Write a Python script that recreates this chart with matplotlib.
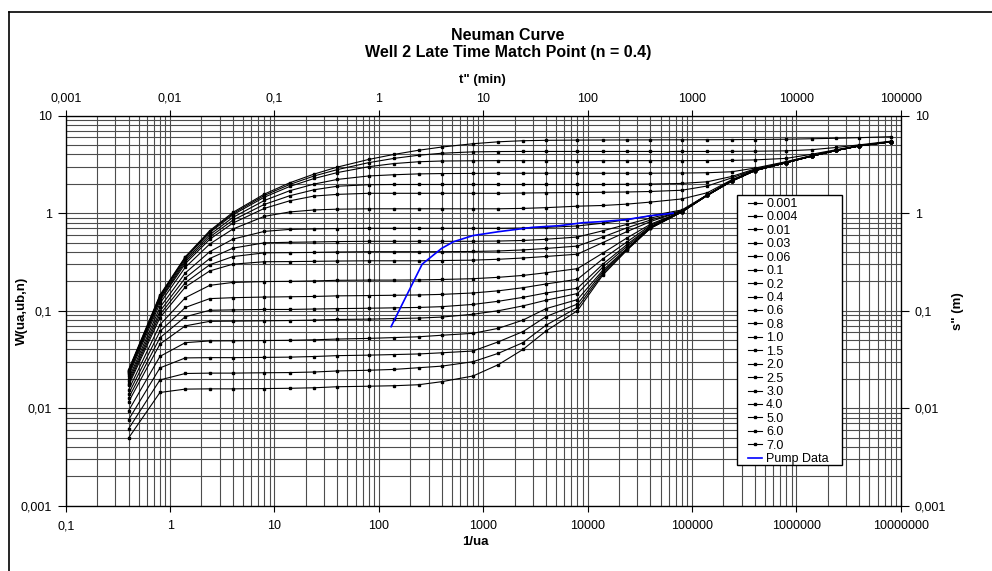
import matplotlib
matplotlib.use("Agg")
import matplotlib.pyplot as plt
from matplotlib.ticker import FixedLocator, FuncFormatter, NullFormatter
from matplotlib.lines import Line2D
from matplotlib.patches import Rectangle

plt.rcParams['font.family'] = ['Liberation Sans', 'DejaVu Sans']

# ---------------- data ----------------
inv_ua = [0.4, 0.8, 1.4, 2.4, 4, 8, 14, 24, 40, 80, 140, 240, 400, 800,
          1400, 2400, 4000, 8000, 14000, 24000, 40000, 80000,
          140000, 240000, 400000, 800000, 1400000, 2400000, 4000000, 8000000]

gamma_labels = ['0.001', '0.004', '0.01', '0.03', '0.06', '0.1', '0.2', '0.4', '0.6',
                '0.8', '1.0', '1.5', '2.0', '2.5', '3.0', '4.0', '5.0', '6.0', '7.0']

w_0001 = [0.0248, 0.145, 0.358, 0.662, 1.02, 1.57, 2.05, 2.52, 2.97, 3.56, 4.01, 4.42, 4.77, 5.16,
          5.40, 5.54, 5.59, 5.62, 5.63, 5.64, 5.65, 5.66, 5.67, 5.68, 5.70, 5.74, 5.80, 5.87, 5.95, 6.09]
w_0004 = [0.0243, 0.142, 0.352, 0.648, 0.992, 1.52, 1.97, 2.41, 2.80, 3.30, 3.65, 3.93, 4.12, 4.26,
          4.29, 4.30, 4.30, 4.30, 4.30, 4.30, 4.30, 4.30, 4.30, 4.31, 4.32, 4.36, 4.48, 4.72, 5.02, 5.48]
w_001 = [0.0241, 0.140, 0.345, 0.633, 0.963, 1.46, 1.88, 2.27, 2.61, 3.00, 3.23, 3.37, 3.43, 3.45,
         3.46, 3.46, 3.46, 3.46, 3.46, 3.46, 3.46, 3.46, 3.47, 3.48, 3.52, 3.65, 4.02, 4.48, 4.94, 5.43]
w_003 = [0.0235, 0.136, 0.331, 0.601, 0.905, 1.35, 1.70, 1.99, 2.22, 2.41, 2.48, 2.53, 2.55, 2.56,
         2.57, 2.57, 2.57, 2.57, 2.57, 2.57, 2.57, 2.58, 2.60, 2.66, 2.90, 3.38, 3.90, 4.42, 4.91, 5.41]
w_006 = [0.0230, 0.131, 0.318, 0.570, 0.849, 1.23, 1.51, 1.74, 1.89, 1.96, 1.97, 1.97, 1.97, 1.97,
         1.97, 1.97, 1.97, 1.97, 1.97, 1.98, 1.99, 2.02, 2.10, 2.38, 2.84, 3.34, 3.88, 4.41, 4.90, 5.40]
w_01 = [0.0224, 0.127, 0.304, 0.540, 0.792, 1.12, 1.34, 1.50, 1.56, 1.60, 1.60, 1.60, 1.60, 1.60,
        1.60, 1.61, 1.62, 1.63, 1.64, 1.65, 1.67, 1.72, 1.90, 2.30, 2.80, 3.32, 3.87, 4.41, 4.90, 5.40]
w_02 = [0.0214, 0.119, 0.279, 0.483, 0.688, 0.928, 1.03, 1.08, 1.10, 1.11, 1.11, 1.11, 1.11, 1.11,
        1.11, 1.12, 1.14, 1.18, 1.20, 1.24, 1.30, 1.40, 1.62, 2.20, 2.77, 3.31, 3.86, 4.40, 4.90, 5.40]
w_04 = [0.0199, 0.108, 0.244, 0.403, 0.542, 0.651, 0.682, 0.690, 0.696, 0.700, 0.700, 0.700, 0.700, 0.700,
        0.700, 0.705, 0.715, 0.740, 0.790, 0.860, 0.940, 1.08, 1.54, 2.15, 2.75, 3.30, 3.85, 4.40, 4.90, 5.40]
w_06 = [0.0188, 0.0988, 0.217, 0.343, 0.438, 0.497, 0.503, 0.507, 0.512, 0.515, 0.515, 0.515, 0.515, 0.515,
        0.518, 0.525, 0.540, 0.570, 0.660, 0.770, 0.890, 1.06, 1.54, 2.15, 2.75, 3.30, 3.85, 4.40, 4.90, 5.40]
w_08 = [0.0179, 0.0915, 0.194, 0.296, 0.359, 0.392, 0.394, 0.396, 0.400, 0.403, 0.403, 0.403, 0.403, 0.405,
        0.410, 0.420, 0.435, 0.460, 0.570, 0.710, 0.850, 1.05, 1.54, 2.15, 2.75, 3.30, 3.85, 4.40, 4.90, 5.40]
w_10 = [0.0171, 0.0849, 0.175, 0.256, 0.300, 0.318, 0.319, 0.321, 0.323, 0.325, 0.325, 0.325, 0.327, 0.330,
        0.337, 0.347, 0.360, 0.380, 0.500, 0.650, 0.820, 1.05, 1.54, 2.15, 2.75, 3.30, 3.85, 4.40, 4.90, 5.40]
w_15 = [0.0154, 0.0717, 0.136, 0.182, 0.195, 0.199, 0.200, 0.202, 0.205, 0.206, 0.206, 0.207, 0.209, 0.213,
        0.220, 0.230, 0.245, 0.270, 0.390, 0.560, 0.770, 1.04, 1.53, 2.14, 2.74, 3.30, 3.85, 4.40, 4.90, 5.40]
w_20 = [0.0140, 0.0614, 0.108, 0.133, 0.136, 0.138, 0.139, 0.140, 0.142, 0.143, 0.144, 0.145, 0.147, 0.152,
        0.160, 0.172, 0.188, 0.210, 0.340, 0.510, 0.750, 1.04, 1.53, 2.14, 2.74, 3.30, 3.85, 4.40, 4.90, 5.40]
w_25 = [0.0127, 0.0528, 0.0867, 0.101, 0.102, 0.103, 0.103, 0.104, 0.105, 0.106, 0.107, 0.108, 0.110, 0.116,
        0.125, 0.137, 0.152, 0.170, 0.300, 0.480, 0.730, 1.035, 1.53, 2.14, 2.74, 3.30, 3.85, 4.40, 4.90, 5.40]
w_30 = [0.0116, 0.0454, 0.0699, 0.0778, 0.0782, 0.0788, 0.0793, 0.0801, 0.0813, 0.082, 0.083, 0.084, 0.086, 0.092,
        0.100, 0.112, 0.128, 0.150, 0.280, 0.460, 0.720, 1.033, 1.53, 2.14, 2.74, 3.30, 3.85, 4.40, 4.90, 5.40]
w_40 = [0.0094, 0.0340, 0.0470, 0.0490, 0.0491, 0.0494, 0.0497, 0.0503, 0.0512, 0.052, 0.053, 0.054, 0.056, 0.0586,
        0.066, 0.080, 0.105, 0.130, 0.260, 0.440, 0.710, 1.03, 1.52, 2.13, 2.73, 3.30, 3.85, 4.40, 4.90, 5.40]
w_50 = [0.0076, 0.0259, 0.0328, 0.0330, 0.0330, 0.0332, 0.0334, 0.0339, 0.0346, 0.0350, 0.0355, 0.0360, 0.0370, 0.0386,
        0.048, 0.061, 0.087, 0.117, 0.250, 0.430, 0.705, 1.03, 1.52, 2.13, 2.73, 3.30, 3.85, 4.40, 4.90, 5.40]
w_60 = [0.00613, 0.0195, 0.0227, 0.0229, 0.0229, 0.0231, 0.0232, 0.0235, 0.0241, 0.0245, 0.0250, 0.0260, 0.0270, 0.0300,
        0.0366, 0.047, 0.071, 0.108, 0.240, 0.425, 0.700, 1.03, 1.52, 2.13, 2.73, 3.30, 3.85, 4.40, 4.90, 5.40]
w_70 = [0.00494, 0.0145, 0.0157, 0.0158, 0.0158, 0.0159, 0.0160, 0.0162, 0.0166, 0.0168, 0.0170, 0.0174, 0.0187, 0.0214,
        0.028, 0.040, 0.062, 0.100, 0.232, 0.420, 0.700, 1.03, 1.52, 2.13, 2.73, 3.30, 3.85, 4.40, 4.90, 5.40]

curves = [w_0001, w_0004, w_001, w_003, w_006, w_01, w_02, w_04, w_06, w_08,
          w_10, w_15, w_20, w_25, w_30, w_40, w_50, w_60, w_70]

# pump test data (top axis t'' in min, right axis s'' in m)
t_pump = [1.31, 2.6, 4.0, 5.2, 8.0, 14, 30, 54, 91, 131, 236, 395, 660]
s_pump = [0.0686, 0.30, 0.436, 0.51, 0.59, 0.646, 0.717, 0.745, 0.80, 0.818, 0.86, 0.94, 1.0]

# axis tick values
x_bottom_ticks = [0.1, 1, 10, 100, 1000, 10000, 100000, 1000000, 10000000]
x_top_ticks = [0.001, 0.01, 0.1, 1, 10, 100, 1000, 10000, 100000]
y_ticks = [0.001, 0.01, 0.1, 1, 10]

# ---------------- figure ----------------
W, H = 992, 571
fig = plt.figure(figsize=(W / 100, H / 100), dpi=100)
L, R, T, B = 65.7, 900.7, 115.7, 505.7
rect = [L / W, 1 - B / H, (R - L) / W, (B - T) / H]


def fmt(v, pos=None):
    if v >= 1:
        return str(int(round(v)))
    s = ('%.6f' % v).rstrip('0')
    return s.replace('.', ',')


def minors(ticks):
    out = []
    for t in ticks[:-1]:
        out += [t * k for k in range(2, 10)]
    return out


def setup(axis, ticks):
    axis.set_major_locator(FixedLocator(ticks))
    axis.set_minor_locator(FixedLocator(minors(ticks)))
    axis.set_major_formatter(FuncFormatter(fmt))
    axis.set_minor_formatter(NullFormatter())


ax = fig.add_axes(rect)
ax.set_xscale('log')
ax.set_yscale('log')
ax.set_xlim(0.1, 1e7)
ax.set_ylim(0.001, 10)
setup(ax.xaxis, x_bottom_ticks)
setup(ax.yaxis, y_ticks)
ax.grid(True, which='both', color='0.3', lw=0.8)
ax.set_axisbelow(True)
ax.tick_params(which='minor', length=0)
ax.tick_params(axis='x', which='major', direction='out', length=4, pad=6.5, labelsize=9)
ax.tick_params(axis='y', which='major', direction='out', length=6, pad=4, labelsize=9)
for sp in ax.spines.values():
    sp.set_color('black')
    sp.set_linewidth(0.9)

handles = []
for lab, w in zip(gamma_labels, curves):
    h, = ax.plot(inv_ua, w, color='black', lw=0.8, marker='s', ms=1.6,
                 mec='black', mfc='black', label=lab)
    handles.append(h)

# secondary axes: t'' (min) on top, s'' (m) on right
ax2 = fig.add_axes(rect)
ax2.set_xscale('log')
ax2.set_yscale('log')
ax2.set_xlim(0.001, 1e5)
ax2.set_ylim(0.001, 10)
ax2.patch.set_visible(False)
ax2.xaxis.tick_top()
ax2.yaxis.tick_right()
setup(ax2.xaxis, x_top_ticks)
setup(ax2.yaxis, y_ticks)
ax2.tick_params(which='minor', length=0)
ax2.tick_params(axis='x', which='major', direction='out', length=4, pad=4, labelsize=9)
ax2.tick_params(axis='y', which='major', direction='out', length=6, pad=4, labelsize=9)
hp, = ax2.plot(t_pump, s_pump, color='#0000ff', lw=1.2, label='Pump Data')
handles.append(hp)

# text
fig.text(508 / W, 1 - 35 / H, 'Neuman Curve', ha='center', va='center',
         fontsize=11.5, fontweight='bold')
fig.text(508 / W, 1 - 52 / H, 'Well 2 Late Time Match Point (n = 0.4)', ha='center',
         va='center', fontsize=11.5, fontweight='bold')
fig.text(482 / W, 1 - 80 / H, 't" (min)', ha='center', va='center', fontsize=9.5,
         fontweight='bold')
fig.text(475 / W, 1 - 541.7 / H, '1/ua', ha='center', va='center', fontsize=9.5,
         fontweight='bold')
fig.text(21.7 / W, 1 - 310.7 / H, 'W(ua,ub,n)', ha='center', va='center', rotation=90,
         fontsize=9.5, fontweight='bold')
fig.text(958 / W, 1 - 310.7 / H, 's" (m)', ha='center', va='center', rotation=90,
         fontsize=9.5, fontweight='bold')

# chart border (left and top edges visible)
fig.add_artist(Line2D([9 / W, 9 / W], [0, 1 - 12 / H], transform=fig.transFigure,
                      color='black', lw=1.2))
fig.add_artist(Line2D([9 / W, 1], [1 - 12 / H, 1 - 12 / H], transform=fig.transFigure,
                      color='black', lw=1.2))

# legend box
fig.add_artist(Rectangle((737 / W, 1 - 465 / H), 105 / W, 270 / H, transform=fig.transFigure,
                         facecolor='white', edgecolor='black', lw=1.0, zorder=4))
leg = fig.legend(handles, [h.get_label() for h in handles], loc='upper left',
                 bbox_to_anchor=(748 / W, 1 - 198 / H), bbox_transform=fig.transFigure,
                 frameon=False, fontsize=9, handlelength=1.1, handletextpad=0.35,
                 labelspacing=0.114, borderpad=0, borderaxespad=0)
leg.set_zorder(5)

fig.savefig('out.png', dpi=100)
